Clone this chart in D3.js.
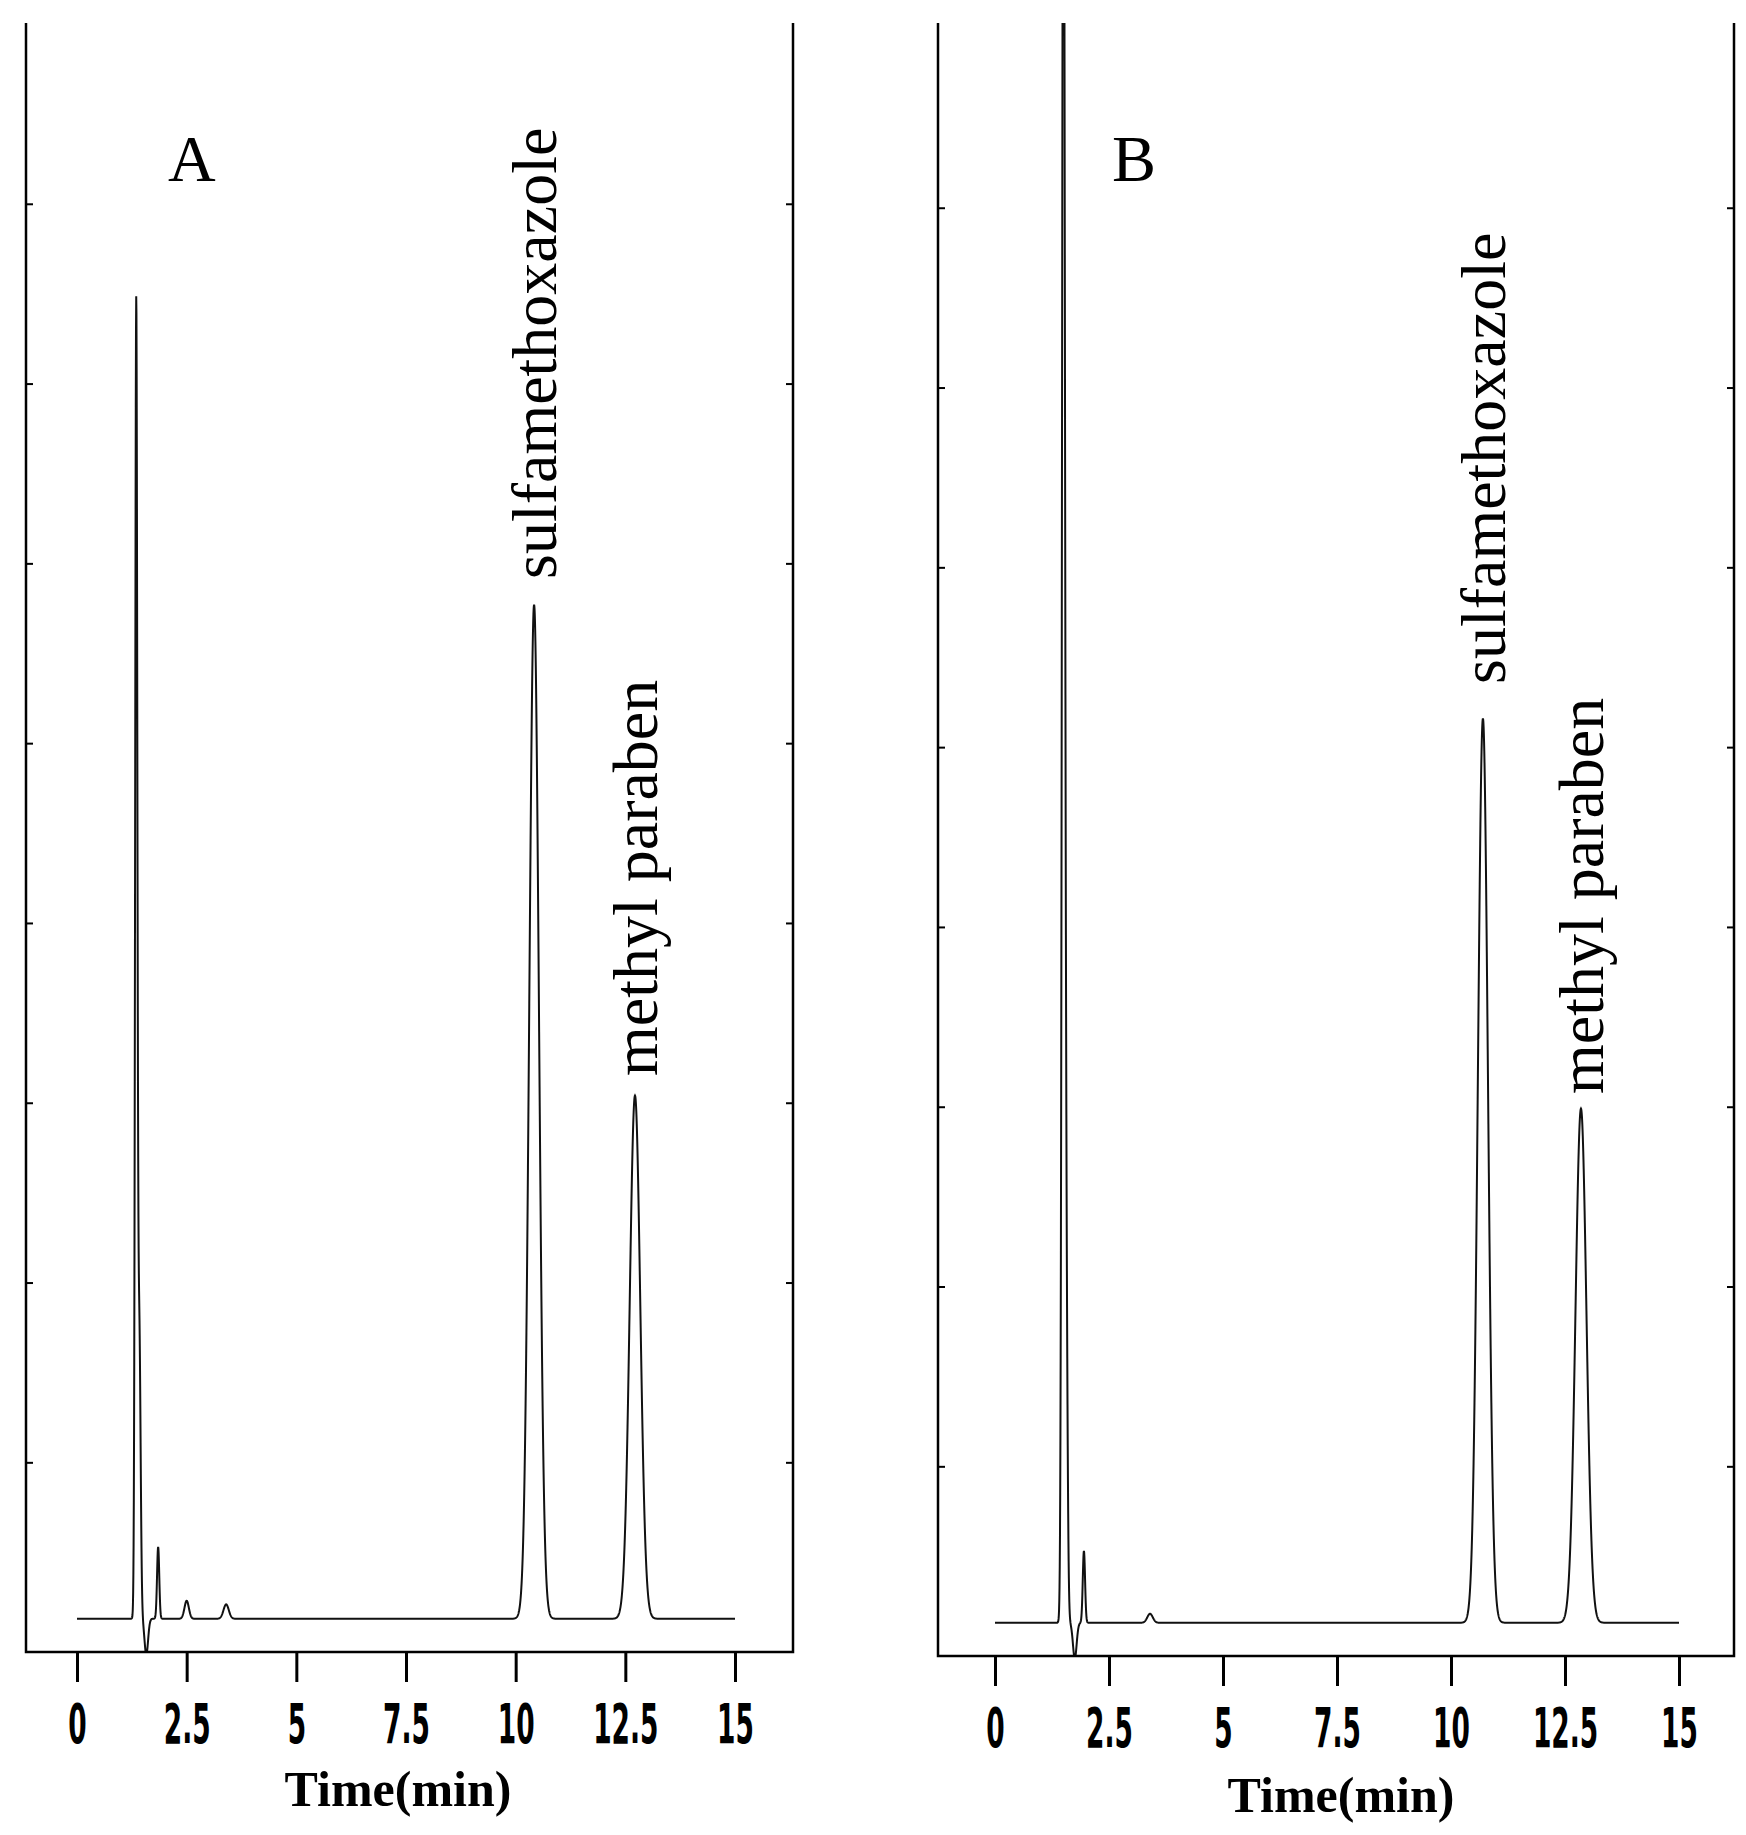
<!DOCTYPE html>
<html>
<head>
<meta charset="utf-8">
<script src="https://cdn.jsdelivr.net/npm/d3@7"></script>
<style>
  body { margin: 0; background: #fff; }
</style>
</head>
<body>
<div id="chart"></div>
<script>
// peak tables: retention time (min), height (tick units), sigma (min)
const peaksA = [
  { t: 1.35, h: 7.25, s: 0.025 },
  { t: 1.42, h: 1.6, s: 0.03 },
  { t: 1.58, h: -0.2, s: 0.04 },
  { t: 1.85, h: 0.4, s: 0.025 },
  { t: 2.5, h: 0.1, s: 0.05 },
  { t: 3.4, h: 0.08, s: 0.06 },
  { t: 10.42, h: 5.64, s: 0.11 },
  { t: 12.72, h: 2.91, s: 0.12 }
];
const peaksB = [
  { t: 1.5, h: 11, s: 0.03 },
  { t: 1.56, h: 1.8, s: 0.03 },
  { t: 1.75, h: -0.2, s: 0.04 },
  { t: 1.95, h: 0.4, s: 0.025 },
  { t: 3.4, h: 0.05, s: 0.06 },
  { t: 10.7, h: 5.03, s: 0.11 },
  { t: 12.85, h: 2.86, s: 0.12 }
];
const baseline = 0.13;
const xTicks = [0, 2.5, 5, 7.5, 10, 12.5, 15];
const xTickLabels = ["0", "2.5", "5", "7.5", "10", "12.5", "15"];
const yTicks = [1, 2, 3, 4, 5, 6, 7, 8];
const panels = [
  { name: "A", peaks: peaksA, left: 26, right: 793, bottom: 1652, t0: 77, t15: 735, titleX: 398, titleY: 1806,
    labels: [{ text: "sulfamethoxazole", t: 10.42, bottomY: 579 }, { text: "methyl paraben", t: 12.72, bottomY: 1076 }],
    letterX: 168 },
  { name: "B", peaks: peaksB, left: 938, right: 1734, bottom: 1656, t0: 995, t15: 1679, titleX: 1341, titleY: 1812,
    labels: [{ text: "sulfamethoxazole", t: 10.7, bottomY: 684 }, { text: "methyl paraben", t: 12.85, bottomY: 1094 }],
    letterX: 1112 }
];

const W = 1746, H = 1835, frameTop = 23;
const svg = d3.select("#chart").append("svg").attr("width", W).attr("height", H);

panels.forEach((p, pi) => {
  const pxPerMin = (p.t15 - p.t0) / 15;
  const x = d3.scaleLinear()
    .domain([(p.left - p.t0) / pxPerMin, (p.right - p.t0) / pxPerMin])
    .range([p.left, p.right]);
  const y = d3.scaleLinear().domain([-10 / 182, (p.bottom + 10 - frameTop) / 182]).range([p.bottom, frameTop]);

  const g = svg.append("g");
  const clipId = "clip" + pi;
  g.append("clipPath").attr("id", clipId).append("rect")
    .attr("x", p.left).attr("y", frameTop).attr("width", p.right - p.left).attr("height", p.bottom - frameTop);

  // trace
  const times = d3.range(0, 15.001, 0.005);
  const signal = times.map(t => ({
    t,
    v: baseline + d3.sum(p.peaks, k => k.h * Math.exp(-0.5 * ((t - k.t) / k.s) ** 2))
  }));
  g.append("path").datum(signal)
    .attr("clip-path", `url(#${clipId})`)
    .attr("fill", "none").attr("stroke", "#111").attr("stroke-width", 2)
    .attr("d", d3.line().x(d => x(d.t)).y(d => y(d.v)));

  // frame: left, right, bottom (no top line)
  g.append("path")
    .attr("fill", "none").attr("stroke", "#000").attr("stroke-width", 2.5)
    .attr("d", `M${p.left},${frameTop}V${p.bottom}H${p.right}V${frameTop}`);

  // x axis
  const xAxis = g.append("g").attr("transform", `translate(0,${p.bottom})`)
    .call(d3.axisBottom(x).tickValues(xTicks).tickSize(30).tickFormat((d, i) => xTickLabels[i]));
  xAxis.select(".domain").remove();
  xAxis.selectAll("line").attr("stroke", "#000").attr("stroke-width", 3);
  xAxis.selectAll("text")
    .attr("y", 70).attr("dy", 0)
    .attr("transform", "scale(0.7,1.3)")
    .attr("font-family", "'DejaVu Sans Condensed', 'DejaVu Sans', sans-serif")
    .attr("font-weight", "bold").attr("font-size", 42)
    .attr("fill", "#000");

  // y ticks (inward, both sides, no labels)
  const yl = g.append("g").attr("transform", `translate(${p.left},0)`)
    .call(d3.axisRight(y).tickValues(yTicks).tickSize(7).tickFormat(""));
  yl.select(".domain").remove();
  yl.selectAll("line").attr("stroke", "#000").attr("stroke-width", 2);
  const yr = g.append("g").attr("transform", `translate(${p.right},0)`)
    .call(d3.axisLeft(y).tickValues(yTicks).tickSize(7).tickFormat(""));
  yr.select(".domain").remove();
  yr.selectAll("line").attr("stroke", "#000").attr("stroke-width", 2);

  // axis title
  g.append("text").attr("x", p.titleX).attr("y", p.titleY)
    .attr("text-anchor", "middle")
    .attr("font-family", "'Liberation Serif', serif").attr("font-weight", "bold").attr("font-size", 50)
    .text("Time(min)");

  // panel letter
  g.append("text").attr("x", p.letterX).attr("y", 181)
    .attr("font-family", "'Liberation Serif', serif").attr("font-size", 66)
    .text(p.name);

  // peak labels
  p.labels.forEach(l => {
    g.append("text")
      .attr("transform", `translate(${x(l.t) + 22},${l.bottomY}) rotate(-90)`)
      .attr("font-family", "'Liberation Serif', serif").attr("font-size", 64)
      .text(l.text);
  });
});
</script>
</body>
</html>
